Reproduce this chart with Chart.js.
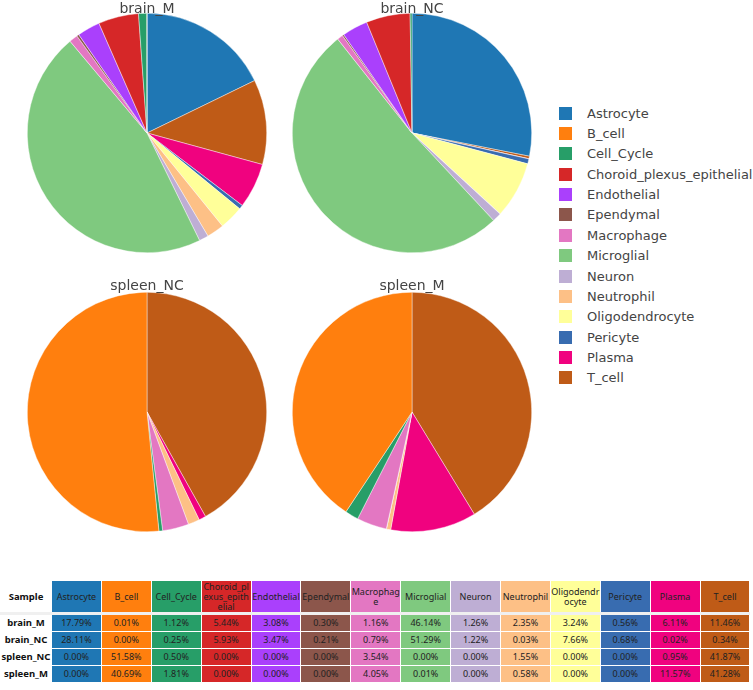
<!DOCTYPE html>
<html>
<head>
<meta charset="utf-8">
<script src="https://cdn.jsdelivr.net/npm/chart.js@4"></script>
<style>
  html, body { margin: 0; padding: 0; background: #fff; }
  #page { position: relative; width: 753px; height: 690px; overflow: hidden; font-family: "DejaVu Sans", sans-serif; }
  .pie { position: absolute; width: 240px; height: 240px; }
  .ttl { position: absolute; width: 200px; text-align: center; font-size: 14px; color: #444; line-height: 16px; }
  #legend { position: absolute; left: 559px; top: 103px; font-size: 13px; color: #444; white-space: nowrap; }
  #legend .it { height: 20.36px; display: flex; align-items: center; }
  #legend .sw { width: 13px; height: 13px; margin-right: 15px; }
  #tbl { position: absolute; left: 0; top: 580px; border-collapse: collapse; font-family: "Noto Sans", sans-serif; font-size: 9px; color: #222; table-layout: fixed; }
  #tbl td, #tbl th { border: 1px solid #fff; text-align: center; padding: 0; overflow: hidden; }
  #tbl th { font-weight: normal; height: 31px; line-height: 10px; word-break: break-all; }
  #tbl td { height: 16px; line-height: 16px; }
  #tbl tr.head th { border-bottom: 3px solid #f0f0f0; }
  #tbl .lab { font-weight: bold; background: #fff; color: #111; font-size: 9.5px; }
</style>
</head>
<body>
<div id="page">
  <canvas id="c0" class="pie" width="240" height="240" style="left:27px;top:13px"></canvas>
  <canvas id="c1" class="pie" width="240" height="240" style="left:292px;top:13px"></canvas>
  <canvas id="c2" class="pie" width="240" height="240" style="left:27px;top:292px"></canvas>
  <canvas id="c3" class="pie" width="240" height="240" style="left:292px;top:292px"></canvas>
  <div class="ttl" style="left:47px;top:0px">brain_M</div>
  <div class="ttl" style="left:312px;top:0px">brain_NC</div>
  <div class="ttl" style="left:47px;top:277px">spleen_NC</div>
  <div class="ttl" style="left:312px;top:277px">spleen_M</div>
  <div id="legend"></div>
  <table id="tbl"></table>
</div>
<script>
const cellTypes = ['Astrocyte', 'B_cell', 'Cell_Cycle', 'Choroid_plexus_epithelial', 'Endothelial',
  'Ependymal', 'Macrophage', 'Microglial', 'Neuron', 'Neutrophil', 'Oligodendrocyte',
  'Pericyte', 'Plasma', 'T_cell']
const colors = ['#1f77b4', '#ff7f0e', '#279e68', '#d62728', '#aa40fc', '#8c564b', '#e377c2',
  '#7fc97f', '#beaed4', '#fdc086', '#ffff99', '#386cb0', '#f0027f', '#bf5b17']
const samples = ['brain_M', 'brain_NC', 'spleen_NC', 'spleen_M']

// percentages per sample, same order as cellTypes
const brainM   = [17.79, 0.01, 1.12, 5.44, 3.08, 0.30, 1.16, 46.14, 1.26, 2.35, 3.24, 0.56, 6.11, 11.46]
const brainNC  = [28.11, 0.00, 0.25, 5.93, 3.47, 0.21, 0.79, 51.29, 1.22, 0.03, 7.66, 0.68, 0.02, 0.34]
const spleenNC = [0.00, 51.58, 0.50, 0.00, 0.00, 0.00, 3.54, 0.00, 0.00, 1.55, 0.00, 0.00, 0.95, 41.87]
const spleenM  = [0.00, 40.69, 1.81, 0.00, 0.00, 0.00, 4.05, 0.01, 0.00, 0.58, 0.00, 0.00, 11.57, 41.28]
const values = [brainM, brainNC, spleenNC, spleenM]

// pies run counter-clockwise from the top in the original, so feed them reversed
// with Astrocyte first (Chart.js goes clockwise)
const order = [0].concat(cellTypes.map((_, i) => i).slice(1).reverse())

values.forEach((vals, k) => {
  new Chart(document.getElementById('c' + k), {
    type: 'pie',
    data: {
      labels: order.map(i => cellTypes[i]),
      datasets: [{
        data: order.map(i => vals[i]),
        backgroundColor: order.map(i => colors[i]),
        borderColor: 'rgba(255,255,255,0.7)',
        borderWidth: 0.6
      }]
    },
    options: {
      responsive: false,
      animation: false,
      devicePixelRatio: 1,
      layout: { padding: 0 },
      plugins: { legend: { display: false }, tooltip: { enabled: false } }
    }
  })
})

// legend
const lg = document.getElementById('legend')
cellTypes.forEach((name, i) => {
  const d = document.createElement('div')
  d.className = 'it'
  d.innerHTML = '<span class="sw" style="background:' + colors[i] + '"></span>' + name
  lg.appendChild(d)
})

// table
const tbl = document.getElementById('tbl')
let html = '<colgroup><col style="width:51px">' + cellTypes.map(() => '<col style="width:49.9px">').join('') + '</colgroup>'
html += '<tr class="head"><th class="lab">Sample</th>' +
  cellTypes.map((n, i) => '<th style="background:' + colors[i] + '">' + n + '</th>').join('') + '</tr>'
samples.forEach((s, k) => {
  html += '<tr><td class="lab">' + s + '</td>' +
    values[k].map((v, i) => '<td style="background:' + colors[i] + '">' + v.toFixed(2) + '%</td>').join('') + '</tr>'
})
tbl.innerHTML = html
</script>
</body>
</html>
